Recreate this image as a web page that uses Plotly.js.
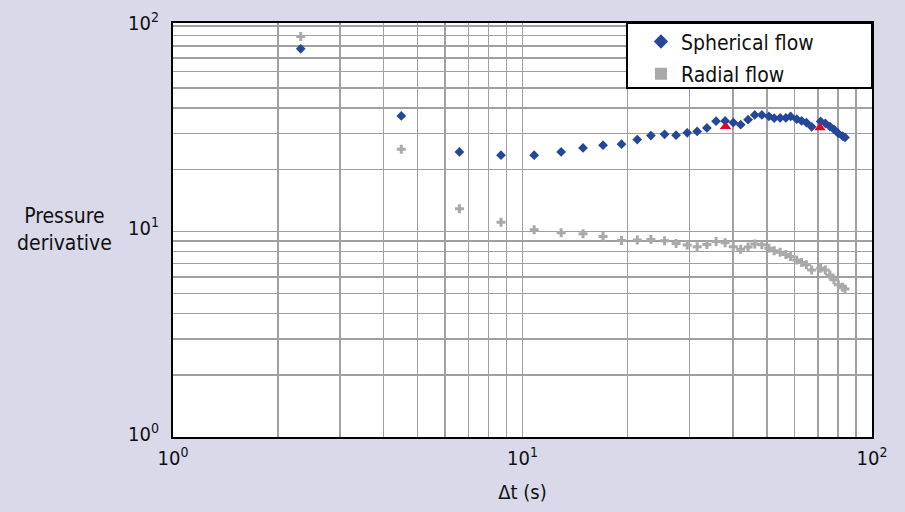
<!DOCTYPE html>
<html>
<head>
<meta charset="utf-8">
<script src="https://cdn.plot.ly/plotly-3.0.1.min.js"></script>
<style>
  html, body { margin: 0; padding: 0; background: #d9d9e9; }
  #chart { width: 905px; height: 512px; }
</style>
</head>
<body>
<div id="chart"></div>
<script>
// Δt (s)
const deltaT = [2.32, 4.5, 6.6, 8.68, 10.8, 12.9, 14.9, 17.0, 19.2, 21.3, 23.3, 25.5, 27.5, 29.6, 31.6, 33.7, 35.8, 38.0, 40.1, 42.1, 44.2, 46.2, 48.4, 50.7, 52.5, 54.6, 56.7, 58.5, 60.9, 62.9, 64.9, 67.2, 71.3, 73.5, 75.8, 77.8, 80.1, 82.4, 83.7];
// Pressure derivative, spherical flow
const sphericalFlow = [77.4, 36.5, 24.4, 23.5, 23.5, 24.4, 25.5, 26.3, 26.6, 28.0, 29.3, 29.7, 29.4, 30.2, 30.7, 31.9, 34.4, 34.5, 33.9, 33.1, 35.0, 36.9, 36.9, 36.3, 35.6, 35.7, 35.7, 36.3, 35.2, 34.5, 33.9, 32.3, 34.3, 33.6, 32.4, 31.4, 30.0, 29.1, 28.7];
// Pressure derivative, radial flow
const radialFlow = [88.8, 25.1, 12.9, 11.1, 10.2, 9.86, 9.75, 9.46, 9.05, 9.08, 9.15, 9.02, 8.75, 8.59, 8.44, 8.65, 8.95, 8.82, 8.44, 8.19, 8.40, 8.68, 8.62, 8.28, 8.07, 7.92, 7.72, 7.55, 7.27, 7.06, 6.88, 6.50, 6.63, 6.50, 6.15, 5.82, 5.50, 5.35, 5.25];
// Highlighted points
const markT = [38.1, 71.0];
const markV = [32.4, 32.0];

const seriesNames = ['Spherical flow', 'Radial flow'];
const gridVals = [1,2,3,4,5,6,7,8,9,10,20,30,40,50,60,70,80,90,100];
const gridText = gridVals.map(v => v === 1 ? '10<sup>0</sup>' : v === 10 ? '10<sup>1</sup>' : v === 100 ? '10<sup>2</sup>' : '');

const FONT = 'Liberation Sans Narrow, DejaVu Sans Condensed, Arial Narrow, sans-serif';
const BLUE = '#24479a';
const GRAY = '#a9a9a9';
const RED = '#e4002b';

const traces = [
  { x: deltaT, y: radialFlow, type: 'scatter', mode: 'markers', showlegend: false,
    marker: { symbol: 'cross', size: 7.5, color: GRAY } },
  { x: deltaT, y: sphericalFlow, type: 'scatter', mode: 'markers', showlegend: false,
    marker: { symbol: 'diamond', size: 7.5, color: BLUE } },
  { x: markT, y: markV, type: 'scatter', mode: 'markers', showlegend: false,
    marker: { symbol: 'triangle-up', size: 10, color: RED } },
  { x: [null], y: [null], type: 'scatter', mode: 'markers', name: seriesNames[0], legendgroup: 'a',
    marker: { symbol: 'diamond', size: 11, color: BLUE } },
  { x: [null], y: [null], type: 'scatter', mode: 'markers', name: seriesNames[1], legendgroup: 'b',
    marker: { symbol: 'square', size: 12, color: GRAY } }
];

const axisCommon = {
  type: 'log',
  tickmode: 'array',
  tickvals: gridVals,
  ticktext: gridText,
  showgrid: true,
  gridcolor: '#a0a0a0',
  gridwidth: 1.5,
  zeroline: false,
  showline: true,
  mirror: true,
  linecolor: '#000000',
  linewidth: 2,
  ticks: '',
  tickfont: { family: FONT, size: 20, color: '#111111' }
};

const layout = {
  width: 905,
  height: 512,
  paper_bgcolor: '#d9d9e9',
  plot_bgcolor: '#ffffff',
  margin: { l: 173, r: 33, t: 23, b: 75 },
  showlegend: true,
  legend: {
    x: 0.6695, y: 1.004, xanchor: 'left', yanchor: 'top',
    bgcolor: 'rgba(0,0,0,0)', borderwidth: 0,
    font: { family: FONT, size: 21, color: '#111111' },
    tracegroupgap: 2
  },
  xaxis: Object.assign({}, axisCommon, {
    range: [0, 2],
    tickangle: 0,
    ticklabelstandoff: 2,
    title: { text: 'Δt (s)', font: { family: FONT, size: 20, color: '#111111' }, standoff: 16 }
  }),
  yaxis: Object.assign({}, axisCommon, {
    range: [0, 2.0145],
    ticklabelstandoff: 8,
    ticklabelshift: -3
  }),
  shapes: [
    { type: 'rect', xref: 'paper', yref: 'paper', layer: 'above',
      x0: (627 - 173) / 699, x1: 1, y0: (437 - 88) / 414, y1: 1,
      fillcolor: '#ffffff', line: { color: '#000000', width: 2 } }
  ],
  annotations: [
    { text: 'Pressure<br>derivative', xref: 'paper', yref: 'paper',
      x: (65 - 173) / 699, y: (437 - 229) / 414, xanchor: 'center', yanchor: 'middle',
      showarrow: false, align: 'center',
      font: { family: FONT, size: 21, color: '#111111' } }
  ]
};

Plotly.newPlot('chart', traces, layout, { displayModeBar: false, staticPlot: true });
</script>
</body>
</html>
